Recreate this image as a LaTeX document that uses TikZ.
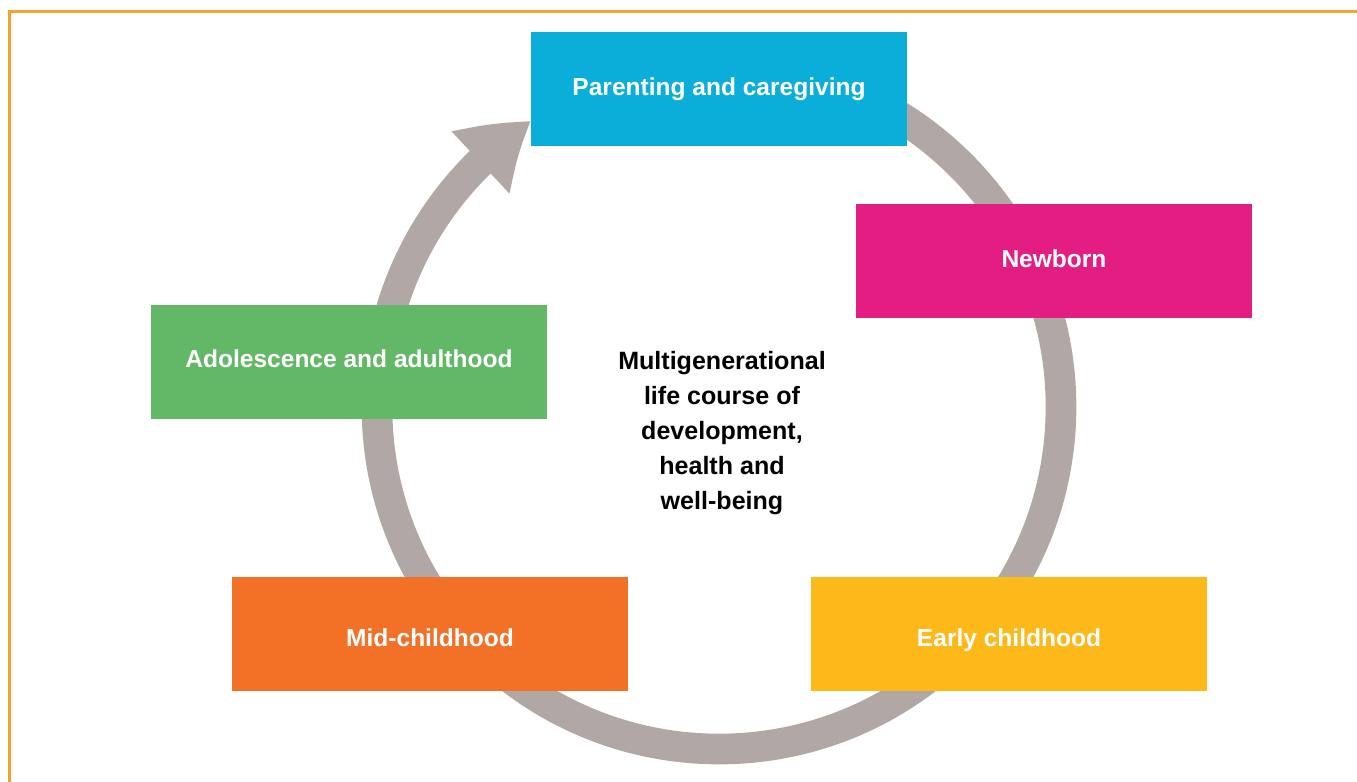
\documentclass[tikz,border=0pt]{standalone}
\usepackage{fontspec}
\setmainfont{Liberation Sans}
\usetikzlibrary{arrows.meta,bending}
\definecolor{framec}{RGB}{247,160,45}
\definecolor{ringc}{RGB}{177,168,165}
\definecolor{parentc}{RGB}{11,173,217}
\definecolor{newbornc}{RGB}{227,29,130}
\definecolor{earlyc}{RGB}{253,184,26}
\definecolor{midc}{RGB}{243,112,39}
\definecolor{adolc}{RGB}{98,184,103}
\tikzset{
  stage/.style={rectangle, minimum width=297pt, minimum height=85.5pt,
    inner sep=0pt, text height=13pt, text depth=4pt, text=white,
    font=\fontsize{18.4}{22}\selectfont\bfseries},
  lowstage/.style={stage, text height=18.8pt, text depth=0pt},
  ring/.style={ringc, line width=23pt,
    -{Triangle[length=49.5pt, width=60pt, bend]}}
}
\begin{document}
\begin{tikzpicture}[x=0.75pt, y=-0.75pt]
      \useasboundingbox (0,0) rectangle (1357,782);
      \draw[framec, line width=2.25pt] (9.5,782) -- (9.5,11.5) -- (1357,11.5);
      \coordinate (hub) at (719,407);
      \draw[ring] (hub) ++(-88:342) arc[start angle=-88, end angle=236.7, radius=342];
      \path
        (719,89) node[stage, fill=parentc, minimum width=282pt] (parent) {Parenting and caregiving}
        (1054,261) node[stage, fill=newbornc] (newborn) {Newborn}
        (1009,633.5) node[lowstage, fill=earlyc] (early) {Early childhood}
        (430,633.5) node[lowstage, fill=midc] (mid) {Mid-childhood}
        (349,361.5) node[stage, fill=adolc] (adol) {Adolescence and adulthood}
        (722,433) node[align=center, font=\fontsize{18.8}{26.25}\selectfont\bfseries] (life)
          {Multigenerational\\life course of\\development,\\health and\\well-being};
    \end{tikzpicture}
\end{document}
